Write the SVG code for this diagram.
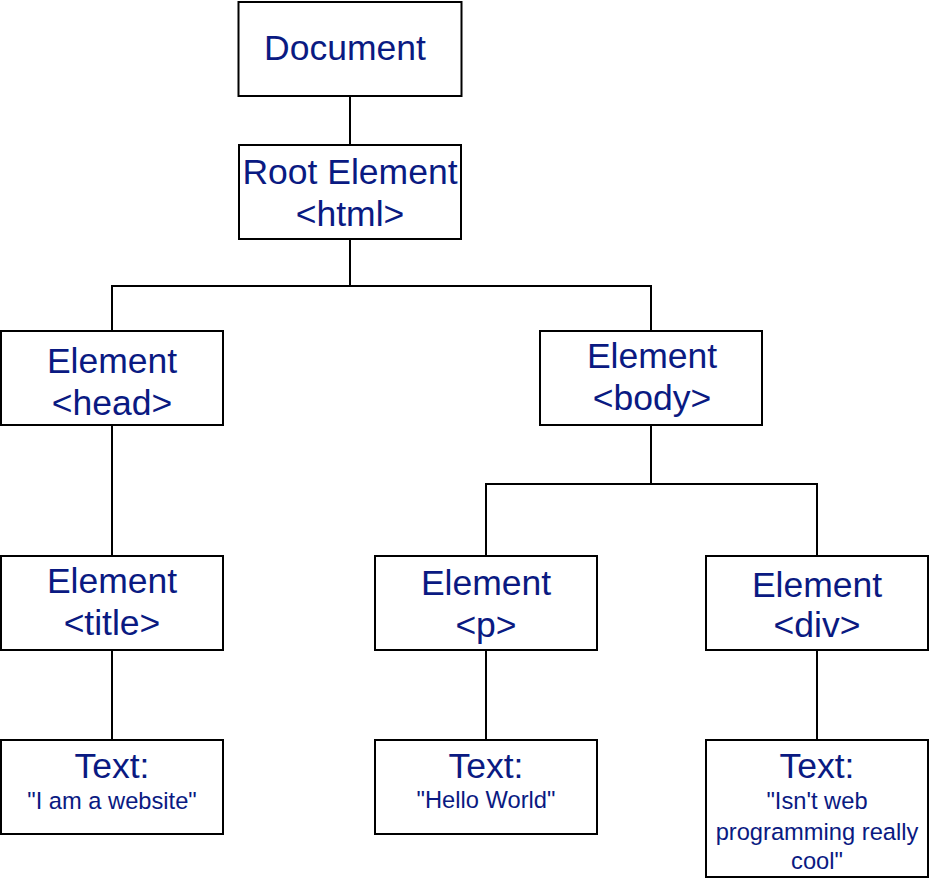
<svg xmlns="http://www.w3.org/2000/svg" width="930" height="879" viewBox="0 0 930 879">
<style>
.box{fill:#fff;stroke:#000;stroke-width:2}
.ln{fill:none;stroke:#000;stroke-width:2}
.big{font-family:"Liberation Sans",Arial,sans-serif;font-size:35.5px;fill:#0a1a82;text-anchor:middle}
.sm{font-family:"Liberation Sans",Arial,sans-serif;font-size:23.7px;fill:#0a1a82;text-anchor:middle}
</style>
<rect width="930" height="879" fill="#fff"/>
<g id="connectors">
<line class="ln" x1="350" y1="96" x2="350" y2="145"/>
<path class="ln" d="M350 239 V286 M112 331 V286 H651 V331"/>
<line class="ln" x1="112" y1="425" x2="112" y2="555"/>
<path class="ln" d="M651 425 V484 M486 555 V484 H817 V555"/>
<line class="ln" x1="112" y1="650" x2="112" y2="740"/>
<line class="ln" x1="486" y1="650" x2="486" y2="740"/>
<line class="ln" x1="817" y1="650" x2="817" y2="740"/>
</g>
<g id="document"><rect class="box" x="238.5" y="2" width="223" height="94"/><text class="big" x="345" y="60">Document</text></g>
<g id="root"><rect class="box" x="239" y="145" width="222" height="94"/><text class="big" x="350" y="184">Root Element</text><text class="big" x="350" y="226">&lt;html&gt;</text></g>
<g id="head"><rect class="box" x="1" y="331" width="222" height="94"/><text class="big" x="112" y="373">Element</text><text class="big" x="112" y="415">&lt;head&gt;</text></g>
<g id="body"><rect class="box" x="540" y="331" width="222" height="94"/><text class="big" x="652" y="368">Element</text><text class="big" x="652" y="410">&lt;body&gt;</text></g>
<g id="title"><rect class="box" x="1" y="556" width="222" height="94"/><text class="big" x="112" y="593">Element</text><text class="big" x="112" y="635">&lt;title&gt;</text></g>
<g id="p"><rect class="box" x="375" y="556" width="222" height="94"/><text class="big" x="486" y="595">Element</text><text class="big" x="486" y="637">&lt;p&gt;</text></g>
<g id="div"><rect class="box" x="706" y="556" width="222" height="94"/><text class="big" x="817" y="597">Element</text><text class="big" x="817" y="637">&lt;div&gt;</text></g>
<g id="text-title"><rect class="box" x="1" y="740" width="222" height="94"/><text class="big" x="112" y="778">Text:</text><text class="sm" x="112" y="809">"I am a website"</text></g>
<g id="text-p"><rect class="box" x="375" y="740" width="222" height="94"/><text class="big" x="486" y="778">Text:</text><text class="sm" x="486" y="808">"Hello World"</text></g>
<g id="text-div"><rect class="box" x="706" y="740" width="222" height="137"/><text class="big" x="817" y="778">Text:</text><text class="sm" x="817" y="809">"Isn't web</text><text class="sm" x="817" y="840">programming really</text><text class="sm" x="817" y="869">cool"</text></g>
</svg>
